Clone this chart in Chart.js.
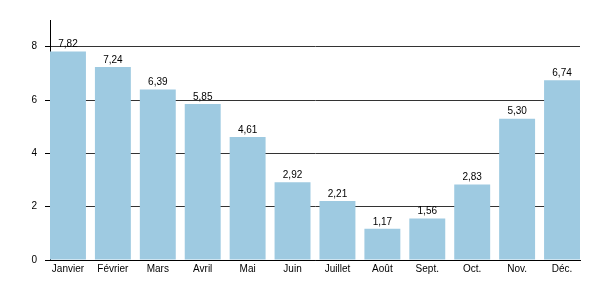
<!DOCTYPE html>
<html>
<head>
<meta charset="utf-8">
<script src="https://cdn.jsdelivr.net/npm/chart.js@4/dist/chart.umd.min.js"></script>
<style>
    body { margin: 0; background: #fff; }
    #wrap { width: 600px; height: 300px; }
</style>
</head>
<body>
<div id="wrap"><canvas id="barChart"></canvas></div>
<script>
// Months (x-axis labels)
var months = ["Janvier", "Février", "Mars", "Avril", "Mai", "Juin", "Juillet", "Août", "Sept.", "Oct.", "Nov.", "Déc."];
// Values of each month
var values = [7.82, 7.24, 6.39, 5.85, 4.61, 2.92, 2.21, 1.17, 1.56, 2.83, 5.30, 6.74];
// Y-axis ticks shown
var yTicks = [0, 2, 4, 6, 8];

var points = values.map(function (v, i) { return { x: i, y: v }; });

// Draws the value above each bar, with a comma as decimal sign
var valueLabels = {
    id: "valueLabels",
    afterDatasetsDraw: function (chart) {
        var ctx = chart.ctx;
        var meta = chart.getDatasetMeta(0);
        ctx.save();
        ctx.font = "10px 'Liberation Sans', Arial, sans-serif";
        ctx.fillStyle = "#000";
        ctx.textAlign = "center";
        ctx.textBaseline = "bottom";
        meta.data.forEach(function (bar, i) {
            ctx.fillText(values[i].toFixed(2).replace(".", ","), bar.x, bar.y - 2);
        });
        ctx.restore();
    }
};

const ctx = document.getElementById("barChart").getContext("2d");
new Chart(ctx, {
    type: "bar",
    data: {
        datasets: [{
            data: points,
            backgroundColor: "#9ecae1",
            borderWidth: 0,
            barPercentage: 0.8,
            categoryPercentage: 1
        }]
    },
    options: {
        responsive: true,
        maintainAspectRatio: false,
        animation: false,
        layout: { padding: { top: 20, right: 20, left: 0, bottom: 0 } },
        plugins: {
            legend: { display: false },
            tooltip: { enabled: false }
        },
        scales: {
            x: {
                type: "linear",
                min: -0.4,
                max: 11.4,
                offset: false,
                grid: { display: false, drawTicks: false },
                border: { display: true, color: "#000", width: 1 },
                ticks: {
                    stepSize: 1,
                    includeBounds: false,
                    autoSkip: false,
                    maxRotation: 0,
                    padding: 3,
                    color: "#000",
                    font: { family: "'Liberation Sans', Arial, sans-serif", size: 10 },
                    callback: function (v) { return months[v]; }
                },
                afterFit: function (scale) { scale.height = 40; }
            },
            y: {
                min: 0,
                max: 9,
                grid: { color: "#333", tickLength: 5, tickColor: "#000" },
                border: { display: true, color: "#000", width: 1 },
                ticks: {
                    stepSize: 2,
                    padding: 8,
                    color: "#000",
                    font: { family: "'Liberation Sans', Arial, sans-serif", size: 10 }
                },
                afterBuildTicks: function (scale) {
                    scale.ticks = yTicks.map(function (t) { return { value: t }; });
                },
                afterFit: function (scale) { scale.width = 50; }
            }
        }
    },
    plugins: [valueLabels]
});
</script>
</body>
</html>
